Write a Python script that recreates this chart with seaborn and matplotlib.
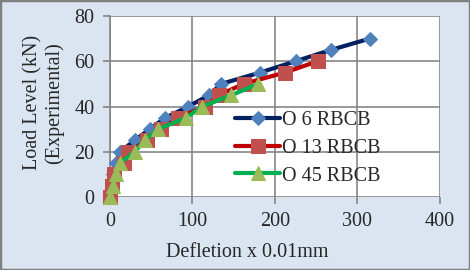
import pandas as pd
import seaborn as sns
import matplotlib.pyplot as plt
from matplotlib.patches import Rectangle

# data
defl_o6 = [0, 2, 4, 7, 12, 30, 48, 67, 95, 120, 135, 182, 225, 268, 315]
load_o6 = [0, 5, 10, 15, 20, 25, 30, 35, 40, 45, 50, 55, 60, 65, 70]

defl_o13 = [0, 3, 5, 17, 22, 45, 62, 82, 115, 132, 162, 212, 252]
load_o13 = [0, 5, 10, 15, 20, 25, 30, 35, 40, 45, 50, 55, 60]

defl_o45 = [0, 4, 7, 12, 30, 42, 58, 92, 112, 147, 180]
load_o45 = [0, 5, 10, 15, 20, 25, 30, 35, 40, 45, 50]

series = [
    ("O 6 RBCB", defl_o6, load_o6, "#002060", "#4f81bd", "D", 7.5),
    ("O 13 RBCB", defl_o13, load_o13, "#c00000", "#c0504d", "s", 10),
    ("O 45 RBCB", defl_o45, load_o45, "#00b050", "#9bbb59", "^", 10),
]

sns.set_style("white")
plt.rcParams['font.family'] = ['Liberation Serif', 'DejaVu Serif']
fs = 14.5

fig = plt.figure(figsize=(4.7, 2.7), dpi=100, facecolor="#dbe5f1")
ax = fig.add_axes([0.234, 0.27, 0.702, 0.671])
ax.set_facecolor("white")

for name, xs, ys, lc, mc, mk, ms in series:
    df = pd.DataFrame({"x": xs, "y": ys})
    sns.lineplot(data=df, x="x", y="y", sort=False, ax=ax, color=lc, linewidth=3,
                 marker=mk, markersize=ms, markerfacecolor=mc, markeredgecolor=mc,
                 label=name, clip_on=False, zorder=3)

ax.set_xlim(0, 400)
ax.set_ylim(0, 80)
ax.set_xticks([0, 100, 200, 300, 400])
ax.set_yticks([0, 20, 40, 60, 80])
ax.grid(True, color="#868686", linewidth=1.2)
ax.set_axisbelow(True)
for s in ["top", "right", "bottom"]:
    ax.spines[s].set_visible(False)
ax.spines["left"].set_color("#868686")
ax.spines["left"].set_linewidth(1.2)
ax.tick_params(axis="both", labelsize=fs, length=5, width=1.2, color="#868686",
               direction="out", left=True, bottom=True, pad=6)

ax.set_xlabel("Defletion x 0.01mm", fontsize=fs)
ax.xaxis.label.set_va("center")
ax.xaxis.set_label_coords(0.415, -0.305)
ax.set_ylabel("Load Level (kN)\n(Experimental)", fontsize=fs, linespacing=1.15)
ax.yaxis.label.set_va("center")
ax.yaxis.label.set_ha("center")
ax.yaxis.set_label_coords(-0.2, 0.52)

leg = ax.legend(loc="center left", bbox_to_anchor=(0.379, 0.271), frameon=False,
                fontsize=fs, handlelength=2.25, handletextpad=0.08,
                labelspacing=0.44, borderpad=0, borderaxespad=0)

fig.patches.append(Rectangle((0, 0), 1, 1, transform=fig.transFigure, fill=False,
                             edgecolor="#808080", linewidth=2.5))

fig.savefig("out.png", dpi=100, facecolor=fig.get_facecolor())
